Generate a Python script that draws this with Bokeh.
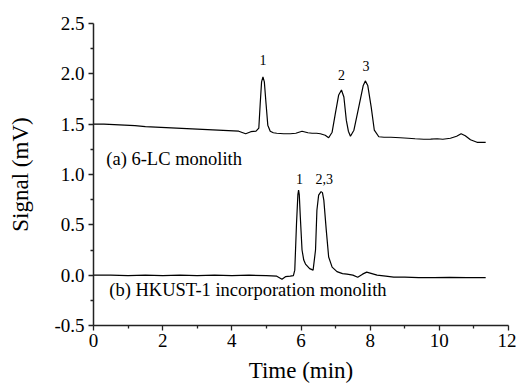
from bokeh.plotting import figure
from bokeh.models import FixedTicker, Range1d
from bokeh.core.properties import value
from bokeh.embed import file_html
from bokeh.resources import INLINE

# ---- data ----
# trace (a) 6-LC monolith
a_time = [0.0, 0.3, 0.6, 0.9, 1.2, 1.5, 1.8, 2.1, 2.4, 2.7, 3.0, 3.3, 3.6, 3.9, 4.2, 4.4, 4.55, 4.7,
          4.78, 4.82, 4.86, 4.90, 4.94, 4.99, 5.04, 5.11, 5.2, 5.3, 5.5, 5.69, 5.85, 6.03, 6.2, 6.32,
          6.45, 6.56, 6.7, 6.8, 6.9, 6.99, 7.09, 7.17, 7.24, 7.31, 7.37, 7.43, 7.53, 7.67, 7.80,
          7.86, 7.93, 8.03, 8.12, 8.25, 8.4, 8.6, 8.87, 9.1, 9.3, 9.55, 9.75, 9.94, 10.1, 10.32,
          10.5, 10.63, 10.75, 10.9, 11.09, 11.34]
a_signal = [1.50, 1.50, 1.495, 1.49, 1.485, 1.475, 1.47, 1.465, 1.46, 1.455, 1.45, 1.445, 1.44, 1.435,
            1.43, 1.405, 1.425, 1.43,
            1.46, 1.70, 1.92, 1.97, 1.92, 1.70, 1.49, 1.43, 1.415, 1.41, 1.405, 1.405, 1.41, 1.43,
            1.415, 1.41, 1.41, 1.405, 1.39, 1.365, 1.42, 1.60, 1.79, 1.84, 1.77, 1.54, 1.43, 1.38,
            1.44, 1.67, 1.885, 1.93, 1.885, 1.67, 1.44, 1.375, 1.37, 1.37, 1.365, 1.36, 1.355, 1.35,
            1.352, 1.355, 1.35, 1.36, 1.38, 1.405, 1.385, 1.345, 1.32, 1.32]

# trace (b) HKUST-1 incorporation monolith
b_time = [0.0, 0.5, 1.0, 1.5, 2.0, 2.5, 3.0, 3.5, 4.0, 4.5, 5.0, 5.3, 5.45, 5.55, 5.69, 5.78,
          5.82, 5.87, 5.91, 5.93, 5.95, 5.98, 6.03, 6.08, 6.13, 6.25, 6.35, 6.42, 6.46, 6.51, 6.58,
          6.62, 6.66, 6.73, 6.80, 6.90, 7.04, 7.2, 7.33, 7.5, 7.64, 7.78, 7.90, 8.05, 8.2, 8.45,
          8.68, 9.0, 9.4, 9.84, 10.3, 10.8, 11.34]
b_signal = [0.0, 0.0, -0.005, 0.0, -0.005, 0.0, -0.005, 0.0, -0.005, 0.0, -0.005, -0.01, -0.04, -0.015,
            -0.01, -0.005, 0.05, 0.51, 0.80, 0.845, 0.80, 0.58, 0.25, 0.15, 0.11, 0.065, 0.05, 0.25,
            0.645, 0.795, 0.83, 0.82, 0.745, 0.45, 0.18, 0.08, 0.035, 0.015, 0.01, 0.0, -0.02, 0.01,
            0.03, 0.015, 0.0, -0.01, -0.02, -0.02, -0.025, -0.025, -0.022, -0.025, -0.025]

peak_label_x = [4.90, 7.17, 7.88, 5.96, 6.67]
peak_label_y = [2.14, 1.99, 2.08, 0.96, 0.955]
peak_labels = ["1", "2", "3", "1", "2,3"]

note_x = [0.37, 0.455]
note_y = [1.15, -0.145]
notes = ["(a) 6-LC monolith", "(b) HKUST-1 incorporation monolith"]

x_ticks = [0, 2, 4, 6, 8, 10, 12]
x_minor = [1, 3, 5, 7, 9, 11]
y_ticks = [-0.5, 0.0, 0.5, 1.0, 1.5, 2.0, 2.5]
y_tick_labels = ["-0.5", "0.0", "0.5", "1.0", "1.5", "2.0", "2.5"]
y_minor = [-0.25, 0.25, 0.75, 1.25, 1.75, 2.25]

FONT = "Liberation Serif"

p = figure(width=516, height=390, output_backend="svg", toolbar_location=None,
           x_range=Range1d(0, 12), y_range=Range1d(-0.5, 2.5),
           min_border_left=93, min_border_right=8, min_border_top=23, min_border_bottom=65)
p.outline_line_color = None
p.grid.visible = False
p.background_fill_color = "white"
p.border_fill_color = "white"

p.line(a_time, a_signal, line_color="black", line_width=1.2)
p.line(b_time, b_signal, line_color="black", line_width=1.2)

p.text(x=peak_label_x, y=peak_label_y, text=peak_labels, text_font=value(FONT),
       text_font_size="14px", text_align="center", text_baseline="middle", text_color="black")
p.text(x=note_x, y=note_y, text=notes, text_font=value(FONT),
       text_font_size="18.5px", text_align="left", text_baseline="middle", text_color="black")

p.xaxis.ticker = FixedTicker(ticks=x_ticks, minor_ticks=x_minor)
p.yaxis.ticker = FixedTicker(ticks=y_ticks, minor_ticks=y_minor)
p.yaxis.major_label_overrides = {t: l for t, l in zip(y_ticks, y_tick_labels)}

for ax in (p.xaxis[0], p.yaxis[0]):
    ax.axis_line_width = 1.5
    ax.axis_line_color = "#222222"
    ax.major_tick_line_color = "#222222"
    ax.minor_tick_line_color = "#222222"
    ax.major_tick_line_width = 1.3
    ax.minor_tick_line_width = 1.3
    ax.major_tick_in = 0
    ax.major_tick_out = 5
    ax.minor_tick_in = 0
    ax.minor_tick_out = 3
    ax.major_label_text_font = FONT
    ax.major_label_text_font_size = "19px"
    ax.major_label_text_color = "black"
    ax.axis_label_text_font = FONT
    ax.axis_label_text_font_size = "23px"
    ax.axis_label_text_font_style = "normal"
    ax.axis_label_text_color = "black"

p.xaxis.axis_label = "Time (min)"
p.yaxis.axis_label = "Signal (mV)"
p.xaxis.major_label_standoff = 3
p.yaxis.major_label_standoff = 4
p.xaxis.axis_label_standoff = 8
p.yaxis.axis_label_standoff = 18

open("out.html", "w").write(file_html(p, INLINE))
